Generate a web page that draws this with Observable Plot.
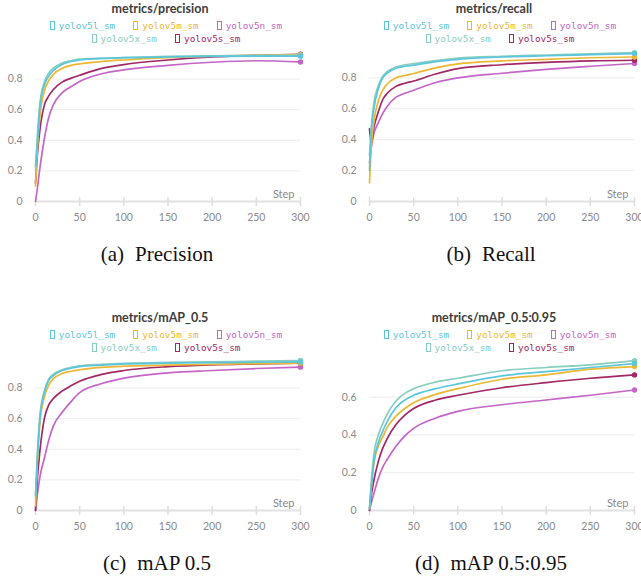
<!DOCTYPE html>
<html>
<head>
<meta charset="utf-8">
<script src="https://cdn.jsdelivr.net/npm/d3@7"></script>
<script src="https://cdn.jsdelivr.net/npm/@observablehq/plot@0.6"></script>
<style>
html, body { margin: 0; padding: 0; background: #fff; overflow: hidden; width: 641px; height: 577px; }
#root { position: relative; width: 641px; height: 577px; overflow: hidden; }
.panel { position: absolute; width: 320px; height: 300px; }
.title { position: absolute; left: 0; top: 1px; width: 320px; text-align: center; font: bold 12.5px Lato, sans-serif; color: #3d3d3d; }
.legend { position: absolute; left: 6px; top: 19px; width: 320px; font: 9.4px "DejaVu Sans Mono", monospace; }
.row { display: flex; justify-content: center; height: 13px; line-height: 13px; white-space: nowrap; }
.item { display: inline-flex; align-items: center; margin: 0 9px; }
.sw { display: inline-block; width: 3px; height: 7px; border: 1.4px solid; margin-right: 4px; }
.chart { position: absolute; left: 0; top: 40px; }
.caption { position: absolute; left: 0; top: 242px; width: 314px; text-align: center; font: 21px "Liberation Serif", "Times New Roman", serif; color: #111; }
.caption .gap { display: inline-block; width: 11px; }
</style>
</head>
<body>
<div id="root"></div>
<script>
// ---------- data ----------
const runs = ["yolov5l_sm", "yolov5m_sm", "yolov5n_sm", "yolov5x_sm", "yolov5s_sm"];
const runColors = ["#5BC5DB", "#EDB732", "#C565C7", "#87CEBF", "#A12864"];
const drawOrder = ["yolov5n_sm", "yolov5s_sm", "yolov5m_sm", "yolov5x_sm", "yolov5l_sm"];
const legendRows = [["yolov5l_sm", "yolov5m_sm", "yolov5n_sm"], ["yolov5x_sm", "yolov5s_sm"]];

const steps = [0, 2, 5, 10, 15, 20, 30, 40, 50, 75, 100, 150, 200, 250, 300];
const xTicks = [0, 50, 100, 150, 200, 250, 300];

// metrics/precision
const precision_l = [0.23, 0.37, 0.62, 0.76, 0.82, 0.855, 0.895, 0.915, 0.925, 0.935, 0.94, 0.945, 0.948, 0.95, 0.95];
const precision_m = [0.10, 0.33, 0.56, 0.72, 0.79, 0.83, 0.87, 0.89, 0.90, 0.915, 0.925, 0.94, 0.95, 0.955, 0.96];
const precision_n = [0.0, 0.08, 0.22, 0.41, 0.55, 0.63, 0.71, 0.75, 0.785, 0.835, 0.86, 0.89, 0.91, 0.92, 0.912];
const precision_x = [0.20, 0.42, 0.64, 0.78, 0.84, 0.87, 0.905, 0.92, 0.93, 0.935, 0.94, 0.948, 0.952, 0.955, 0.956];
const precision_s = [0.12, 0.30, 0.47, 0.63, 0.69, 0.73, 0.78, 0.805, 0.825, 0.87, 0.895, 0.925, 0.945, 0.955, 0.962];

// metrics/recall
const recall_l = [0.20, 0.45, 0.60, 0.73, 0.80, 0.83, 0.862, 0.875, 0.882, 0.905, 0.92, 0.935, 0.943, 0.95, 0.957];
const recall_m = [0.12, 0.35, 0.52, 0.65, 0.72, 0.76, 0.80, 0.815, 0.828, 0.865, 0.89, 0.91, 0.92, 0.93, 0.935];
const recall_n = [0.25, 0.35, 0.44, 0.51, 0.57, 0.615, 0.675, 0.70, 0.72, 0.77, 0.80, 0.83, 0.855, 0.875, 0.893];
const recall_x = [0.30, 0.48, 0.64, 0.75, 0.81, 0.84, 0.87, 0.885, 0.892, 0.912, 0.928, 0.94, 0.948, 0.956, 0.963];
const recall_s = [0.47, 0.38, 0.48, 0.58, 0.66, 0.70, 0.745, 0.765, 0.78, 0.825, 0.86, 0.885, 0.90, 0.91, 0.914];

// metrics/mAP_0.5
const map50_l = [0.10, 0.33, 0.60, 0.77, 0.85, 0.88, 0.915, 0.93, 0.94, 0.95, 0.958, 0.963, 0.966, 0.969, 0.971];
const map50_m = [0.03, 0.30, 0.57, 0.74, 0.82, 0.86, 0.895, 0.91, 0.92, 0.935, 0.943, 0.95, 0.955, 0.96, 0.963];
const map50_n = [0.0, 0.10, 0.22, 0.34, 0.46, 0.55, 0.64, 0.71, 0.77, 0.83, 0.865, 0.90, 0.915, 0.928, 0.937];
const map50_x = [0.08, 0.35, 0.62, 0.78, 0.86, 0.89, 0.92, 0.935, 0.945, 0.955, 0.962, 0.968, 0.972, 0.976, 0.98];
const map50_s = [0.0, 0.20, 0.39, 0.60, 0.69, 0.73, 0.78, 0.815, 0.845, 0.89, 0.915, 0.94, 0.952, 0.958, 0.963];

// metrics/mAP_0.5:0.95
const map5095_l = [0.01, 0.12, 0.26, 0.36, 0.42, 0.47, 0.545, 0.585, 0.61, 0.645, 0.67, 0.713, 0.735, 0.757, 0.778];
const map5095_m = [0.01, 0.12, 0.25, 0.34, 0.39, 0.44, 0.50, 0.54, 0.57, 0.615, 0.645, 0.695, 0.718, 0.748, 0.762];
const map5095_n = [0.0, 0.04, 0.09, 0.17, 0.23, 0.27, 0.34, 0.395, 0.435, 0.49, 0.525, 0.56, 0.585, 0.61, 0.638];
const map5095_x = [0.01, 0.15, 0.30, 0.40, 0.46, 0.51, 0.58, 0.62, 0.645, 0.68, 0.70, 0.74, 0.757, 0.771, 0.793];
const map5095_s = [0.0, 0.08, 0.16, 0.26, 0.33, 0.38, 0.455, 0.505, 0.54, 0.585, 0.61, 0.65, 0.677, 0.70, 0.718];

const panels = [
  {title: "metrics/precision", caption: ["(a)", "Precision"], left: 0, top: 0, yMax: 1.0, yTicks: [0, 0.2, 0.4, 0.6, 0.8],
   series: {yolov5l_sm: precision_l, yolov5m_sm: precision_m, yolov5n_sm: precision_n, yolov5x_sm: precision_x, yolov5s_sm: precision_s}},
  {title: "metrics/recall", caption: ["(b)", "Recall"], left: 334, top: 0, yMax: 0.99, yTicks: [0, 0.2, 0.4, 0.6, 0.8],
   series: {yolov5l_sm: recall_l, yolov5m_sm: recall_m, yolov5n_sm: recall_n, yolov5x_sm: recall_x, yolov5s_sm: recall_s}},
  {title: "metrics/mAP_0.5", caption: ["(c)", "mAP 0.5"], left: 0, top: 309, yMax: 1.0, yTicks: [0, 0.2, 0.4, 0.6, 0.8],
   series: {yolov5l_sm: map50_l, yolov5m_sm: map50_m, yolov5n_sm: map50_n, yolov5x_sm: map50_x, yolov5s_sm: map50_s}},
  {title: "metrics/mAP_0.5:0.95", caption: ["(d)", "mAP 0.5:0.95"], left: 334, top: 309, yMax: 0.81, yTicks: [0, 0.2, 0.4, 0.6],
   series: {yolov5l_sm: map5095_l, yolov5m_sm: map5095_m, yolov5n_sm: map5095_n, yolov5x_sm: map5095_x, yolov5s_sm: map5095_s}}
];

// ---------- drawing ----------
const root = document.getElementById("root");
const colorOf = Object.fromEntries(runs.map((r, i) => [r, runColors[i]]));
const yFmt = d => d === 0 ? "0" : d3.format(".1f")(d);

function makeChart(p) {
  const rows = [];
  for (const run of drawOrder) {
    p.series[run].forEach((v, i) => rows.push({run, step: steps[i], value: v}));
  }
  const ends = drawOrder.map(run => ({run, step: steps[steps.length - 1], value: p.series[run][steps.length - 1]}));
  return Plot.plot({
    width: 320, height: 190,
    marginLeft: 35, marginRight: 20, marginTop: 8, marginBottom: 29,
    style: {fontFamily: "Lato, sans-serif", fontSize: "10.5px", background: "transparent", overflow: "visible", maxWidth: "none"},
    x: {domain: [0, 300], label: null},
    y: {domain: [0, p.yMax], label: null},
    color: {domain: runs, range: runColors},
    marks: [
      Plot.gridY(p.yTicks.filter(d => d > 0), {stroke: "#ececec", strokeOpacity: 1}),
      Plot.ruleY([0], {stroke: "#e2e2e2", strokeWidth: 2}),
      Plot.axisX(xTicks, {tickSize: 9, dy: -4, tickFormat: () => "", stroke: "#dedede", strokeWidth: 1.5}),
      Plot.axisX(xTicks, {tickSize: 0, tickPadding: 12, fill: "#8a8a8a"}),
      Plot.axisY(p.yTicks, {tickSize: 0, tickPadding: 13, fill: "#8a8a8a", tickFormat: yFmt}),
      Plot.line(rows, {x: "step", y: "value", z: "run", stroke: "run", strokeWidth: 1.7, curve: "monotone-x"}),
      Plot.dot(ends, {x: "step", y: "value", fill: "run", r: 2.7}),
      Plot.text(["Step"], {frameAnchor: "bottom-right", textAnchor: "end", lineAnchor: "bottom", dx: -6, dy: -4, fill: "#8a8a8a", fontSize: 11})
    ]
  });
}

for (const p of panels) {
  const div = document.createElement("div");
  div.className = "panel";
  div.style.left = p.left + "px";
  div.style.top = p.top + "px";

  const t = document.createElement("div");
  t.className = "title";
  t.textContent = p.title;
  div.appendChild(t);

  const lg = document.createElement("div");
  lg.className = "legend";
  for (const r of legendRows) {
    const row = document.createElement("div");
    row.className = "row";
    for (const run of r) {
      const it = document.createElement("span");
      it.className = "item";
      it.style.color = colorOf[run];
      const sw = document.createElement("span");
      sw.className = "sw";
      sw.style.borderColor = colorOf[run];
      it.appendChild(sw);
      it.appendChild(document.createTextNode(run));
      row.appendChild(it);
    }
    lg.appendChild(row);
  }
  div.appendChild(lg);

  const c = document.createElement("div");
  c.className = "chart";
  c.appendChild(makeChart(p));
  div.appendChild(c);

  const cap = document.createElement("div");
  cap.className = "caption";
  const a = document.createElement("span"); a.textContent = p.caption[0];
  const g = document.createElement("span"); g.className = "gap";
  const b = document.createElement("span"); b.textContent = p.caption[1];
  cap.appendChild(a); cap.appendChild(g); cap.appendChild(b);
  div.appendChild(cap);

  root.appendChild(div);
}
</script>
</body>
</html>
